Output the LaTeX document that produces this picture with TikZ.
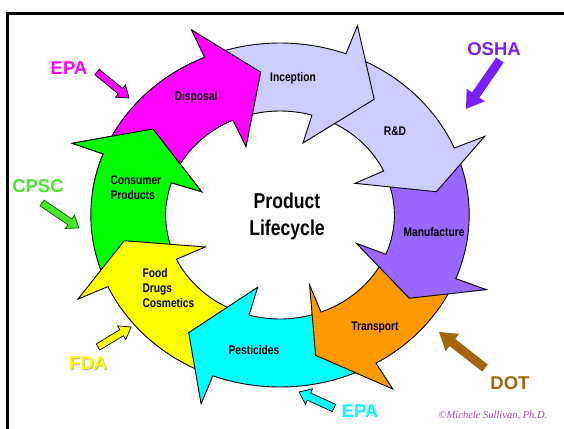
\documentclass[tikz,border=0pt]{standalone}
\usepackage{fontspec}
\setmainfont{Liberation Sans}
\newfontfamily\narrowsf{Liberation Sans}[FakeStretch=0.82]
\newfontfamily\signfont{Liberation Serif}
\usetikzlibrary{calc}

\definecolor{lavender}{RGB}{204,204,255}
\definecolor{mfgviolet}{RGB}{153,102,255}
\definecolor{shiporange}{RGB}{255,153,0}
\definecolor{pureyellow}{RGB}{255,255,0}
\definecolor{puregreen}{RGB}{0,255,0}
\definecolor{puremagenta}{RGB}{255,0,255}
\definecolor{purecyan}{RGB}{0,255,255}
\definecolor{oshaviolet}{RGB}{122,30,255}
\definecolor{dotbrown}{RGB}{163,100,12}
\definecolor{cpscgreen}{RGB}{70,230,40}
\definecolor{signpurple}{RGB}{170,70,170}

% ring radii: outer, inner, outer barb, inner barb, tip
\def\ro{172}\def\ri{104}\def\rbo{202}\def\rbi{75}\def\rt{144}

\tikzset{
  ringpart/.style={draw=black, line width=0.9pt},
  stagelabel/.style={font=\narrowsf\bfseries\fontsize{12.5}{15}\selectfont, align=left},
  agency/.style={font=\bfseries\fontsize{18.5}{20}\selectfont},
  pointer/.style={line width=0.7pt},
}

% curved arrow of the ring
% #1 fill, #2-#4 head before it (outer, inner, tip), #5-#7 its own head
\newcommand{\ringarrow}[7]{%
  \filldraw[ringpart, fill=#1]
    ({#2-2}:\ro) arc[start angle={#2-2}, end angle=#5, radius=\ro]
    -- (#5:\rbo) -- (#7:\rt) -- (#6:\rbi) -- (#6:\ri)
    arc[start angle=#6, end angle={#3-2}, radius=\ri]
    -- ({#4+3}:\rt) -- cycle;}

% straight block arrow from #2 to #3; #4 half shaft, #5 half head, #6 head length
\newcommand{\pointer}[6][]{%
  \path[pointer, #1] let \p1=($(#3)-(#2)$), \n1={atan2(\y1,\x1)}, \n2={veclen(\x1,\y1)} in
    ($(#2)+({\n1+90}:#4)$) -- ($(#2)+(\n1:{\n2-#6})+({\n1+90}:#4)$)
    -- ($(#2)+(\n1:{\n2-#6})+({\n1+90}:#5)$) -- (#3)
    -- ($(#2)+(\n1:{\n2-#6})+({\n1-90}:#5)$) -- ($(#2)+(\n1:{\n2-#6})+({\n1-90}:#4)$)
    -- ($(#2)+({\n1-90}:#4)$) -- cycle;}

\begin{document}
\begin{tikzpicture}[x=1pt, y=1pt]
\useasboundingbox (0,0) rectangle (564,-428);
\draw[line width=2.5pt] (7.5,-445) |- (580,-13.5);

% the lifecycle ring
\begin{scope}[shift={(280,-215)}, xscale=1.1]
  \ringarrow{puregreen}{204.6}{205.2}{190.3}{159.2}{161.9}{143.3}
  \ringarrow{pureyellow}{249.2}{254.3}{234.8}{204.6}{205.2}{190.3}
  \ringarrow{purecyan}{300.5}{291}{283}{249.2}{254.3}{234.8}
  \ringarrow{shiporange}{-21.7}{-22.2}{-35.3}{-59.5}{-69}{-77}
  \ringarrow{mfgviolet}{22.9}{25}{9.3}{-21.7}{-22.2}{-35.3}
  \ringarrow{lavender}{69.6}{73.8}{53.5}{22.9}{25}{9.3}
  \ringarrow{lavender}{113.5}{114.3}{97}{69.6}{73.8}{53.5}
  \ringarrow{puremagenta}{159.2}{161.9}{143.3}{113.5}{114.3}{97}
  % green head goes back on top of the disposal tail
  \begin{scope}
    \clip (0,0) -- (135:240) arc[start angle=135, end angle=172, radius=240] -- cycle;
    \ringarrow{puregreen}{204.6}{205.2}{190.3}{159.2}{161.9}{143.3}
  \end{scope}
\end{scope}

\node[stagelabel] (disposal) at (196,-97) {Disposal};
\node[stagelabel] (inception) at (293,-78) {Inception};
\node[stagelabel] (rnd) at (395,-131) {R\&D};
\node[stagelabel] (manufacture) at (434,-232) {Manufacture};
\node[stagelabel] (transport) at (375,-327) {Transport};
\node[stagelabel] (pesticides) at (254,-350) {Pesticides};
\node[stagelabel, anchor=west] (food) at (139,-288) {Food\\Drugs\\Cosmetics};
\node[stagelabel, anchor=west] (consumer) at (107,-188) {Consumer\\Products};
\node[font=\narrowsf\bfseries\fontsize{21.5}{27}\selectfont, align=center] (lifecycle) at (287,-216) {Product\\Lifecycle};

% agencies
\node[agency, text=oshaviolet] (osha) at (494,-49) {OSHA};
\node[agency, text=puremagenta] (epatop) at (69,-68) {EPA};
\node[agency, text=cpscgreen] (cpsc) at (38,-186) {CPSC};
\node[agency, text=black!30] (fdashadow) at (89,-364) {FDA};
\node[agency, text=pureyellow] (fda) at (88,-363) {FDA};
\node[agency, text=purecyan] (epabottom) at (360,-411) {EPA};
\node[agency, text=dotbrown] (dot) at (510,-383) {DOT};
\node[text=signpurple, font=\signfont\itshape\fontsize{10.5}{12}\selectfont] (sign) at (493,-416) {\textcopyright Michele Sullivan, Ph.D.};

\coordinate (osha-tail) at (500,-60);  \coordinate (osha-tip) at (466,-109);
\coordinate (epatop-tail) at (97,-72);  \coordinate (epatop-tip) at (129,-98);
\coordinate (cpsc-tail) at (42,-203);  \coordinate (cpsc-tip) at (79,-228);
\coordinate (fda-tail) at (98,-347);  \coordinate (fda-tip) at (131,-327);
\coordinate (epabottom-tail) at (334,-408);  \coordinate (epabottom-tip) at (299,-392);
\coordinate (dot-tail) at (485,-368);  \coordinate (dot-tip) at (439,-332);

\pointer[fill=oshaviolet]{osha-tail}{osha-tip}{4.5}{11}{17}
\pointer[fill=puremagenta, draw=black]{epatop-tail}{epatop-tip}{3.5}{8}{11}
\pointer[fill=cpscgreen, draw=green!40!black]{cpsc-tail}{cpsc-tip}{3.5}{8}{11}
\pointer[fill=pureyellow, draw=black]{fda-tail}{fda-tip}{3.5}{8}{11}
\pointer[fill=purecyan, draw=black]{epabottom-tail}{epabottom-tip}{4}{8.5}{11}
\pointer[fill=dotbrown]{dot-tail}{dot-tip}{4.5}{11}{17}
\end{tikzpicture}
\end{document}
